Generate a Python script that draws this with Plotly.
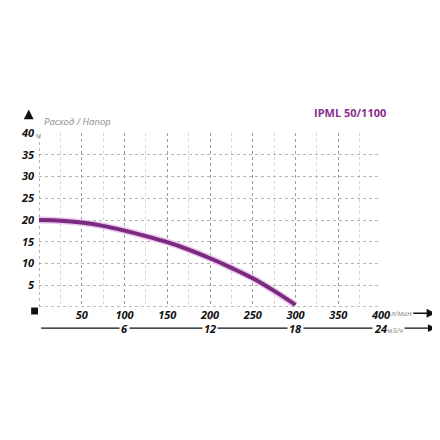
import plotly.graph_objects as go

# pump curve IPML 50/1100 : flow (l/min) vs head (m)
flow_lpm = [0, 25, 50, 75, 100, 125, 150, 175, 200, 225, 250, 275, 300]
head_m = [20.0, 19.85, 19.4, 18.65, 17.55, 16.3, 14.9, 13.2, 11.2, 9.0, 6.6, 3.7, 0.5]

x_ticks = [50, 100, 150, 200, 250, 300, 350, 400]
y_ticks = [5, 10, 15, 20, 25, 30, 35, 40]
m3h_ticks = [6, 12, 18, 24]

title = "IPML 50/1100"
axis_title = "Расход / Напор"

PURPLE = "#7a2a7f"
tick_font = dict(family="Open Sans", size=11, color="#111", weight="bold", style="italic")

fig = go.Figure()

# light halo under the curve
fig.add_trace(go.Scatter(x=flow_lpm, y=head_m, mode="lines", line=dict(color="#ecc8ee", width=7, shape="spline"),
                         hoverinfo="skip"))
fig.add_trace(go.Scatter(x=flow_lpm, y=head_m, mode="lines", line=dict(color=PURPLE, width=4, shape="spline")))

# page body adds an 8px offset, so the figure is 8px smaller with the same plot area
fig.update_layout(
    width=432, height=432,
    margin=dict(l=31, r=59, t=125, b=133),
    paper_bgcolor="white", plot_bgcolor="white",
    showlegend=False,
)

fig.update_xaxes(
    range=[0, 400], tickvals=x_ticks, ticktext=[str(v) for v in x_ticks],
    tickfont=tick_font, ticks="", showline=False, zeroline=False,
    showgrid=True, gridcolor="#9a9a9a", griddash="dot", gridwidth=1,
    minor=dict(dtick=25, tick0=0, showgrid=True, gridcolor="#d6d6d6", griddash="dot", gridwidth=1),
    fixedrange=True, automargin=False,
)
fig.update_yaxes(
    range=[0, 40], tickvals=y_ticks, ticktext=[str(v) for v in y_ticks],
    tickfont=tick_font, ticks="", showline=False, zeroline=False,
    showgrid=True, gridcolor="#b5b5b5", griddash="dot", gridwidth=1,
    ticklabelstandoff=4, fixedrange=True, automargin=False,
)

# axis lines (dotted, darker)
fig.add_shape(type="line", xref="x", yref="y", x0=0, x1=0, y0=0, y1=40, line=dict(color="#777", width=1, dash="dot"))
fig.add_shape(type="line", xref="x", yref="y", x0=0, x1=400, y0=0, y1=0, line=dict(color="#777", width=1, dash="dot"))

annos = []
# title and axis caption
annos.append(dict(text=title, xref="paper", yref="paper", x=0.91, y=1.115, xanchor="center", yanchor="middle",
                  showarrow=False, font=dict(family="Open Sans", size=11, color="#8a2d8c", weight="bold")))
annos.append(dict(text=axis_title, xref="paper", yref="paper", x=0.008, y=1.065, xanchor="left", yanchor="middle",
                  showarrow=False, font=dict(family="Open Sans", size=9.5, color="#8a8a8a", style="italic")))
# unit suffixes
annos.append(dict(text="м", xref="paper", yref="y", x=0, y=40, xanchor="left", yanchor="middle", xshift=-4, yshift=-2,
                  showarrow=False, borderpad=0, font=dict(family="Open Sans", size=7, color="#888")))
annos.append(dict(text="л/мин", xref="x", yref="paper", x=400, y=-0.036, xanchor="left", yanchor="middle", xshift=7,
                  showarrow=False, font=dict(family="Open Sans", size=7.5, color="#888", style="italic")))
# vertical arrow above the y axis
annos.append(dict(xref="paper", yref="paper", x=-0.03, y=1.135, ax=0, ay=11,
                  text="", showarrow=True, arrowhead=2, arrowsize=1.4, arrowwidth=1.4, arrowcolor="#111"))
# arrow after l/min
annos.append(dict(xref="paper", yref="paper", x=1.16, y=-0.036, ax=-24, ay=0,
                  text="", showarrow=True, arrowhead=2, arrowsize=1.3, arrowwidth=1.4, arrowcolor="#111"))
# secondary scale line in m3/h with arrow
annos.append(dict(xref="paper", yref="paper", x=1.16, y=-0.121, ax=-396, ay=0,
                  text="", showarrow=True, arrowhead=2, arrowsize=1.3, arrowwidth=1.2, arrowcolor="#111"))
for v in m3h_ticks:
    xv = v * 1000 / 60
    last = v == m3h_ticks[-1]
    label = str(v) + ("<span style='font-size:7.5px;color:#888;font-weight:normal'>м3/ч</span>" if last else "")
    annos.append(dict(text=label, xref="x", yref="paper", x=xv, y=-0.121,
                      xanchor="left" if last else "center", xshift=-9 if last else 0,
                      yanchor="middle", showarrow=False, bgcolor="white", borderpad=1,
                      font=tick_font))
    fig.add_shape(type="line", xref="x", yref="paper", x0=xv, x1=xv, y0=-0.065, y1=-0.095,
                  line=dict(color="#333", width=1, dash="dot"))
fig.update_layout(annotations=annos)

# black square at the origin
fig.add_shape(type="rect", xref="paper", yref="paper", x0=-0.023, x1=-0.003, y0=-0.003, y1=-0.043,
              fillcolor="#111", line=dict(width=0))

fig.write_html("out.html")
